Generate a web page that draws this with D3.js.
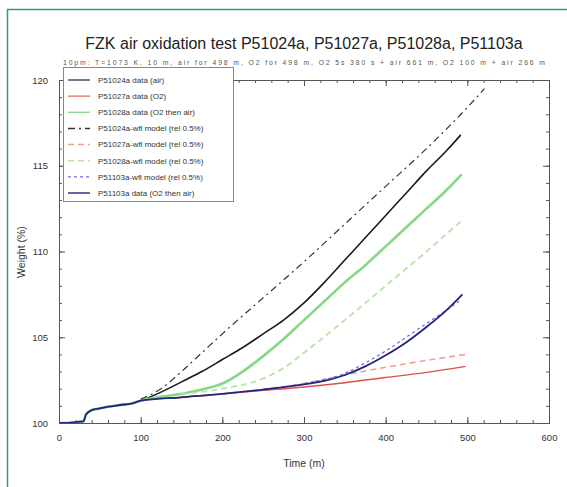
<!DOCTYPE html>
<html>
<head>
<meta charset="utf-8">
<script src="https://cdn.jsdelivr.net/npm/d3@7"></script>
<style>
  body { margin: 0; background: #fff; }
  svg { font-family: "Liberation Sans", Arial, sans-serif; }
</style>
</head>
<body>
<div></div>
<script>
const width = 567;
const height = 487;

const titleText = "FZK air oxidation test P51024a, P51027a, P51028a, P51103a";
const subtitleText = "10pm: T=1073 K, 10 m, air for 498 m, O2 for 498 m, O2 5s 380 s + air 661 m, O2 100 m + air 266 m";

const xTicks = [0, 100, 200, 300, 400, 500, 600];
const yTicks = [100, 105, 110, 115, 120];

// shared start of all runs (time in min, weight in %)
const startT = [0, 10, 20, 30, 33, 40, 50, 60, 75, 90, 100];
const startW = [100.0, 100.0, 100.05, 100.1, 100.5, 100.75, 100.85, 100.95, 101.05, 101.15, 101.3];

const t24 = [125, 150, 175, 200, 225, 250, 275, 300, 325, 350, 375, 400, 425, 450, 475, 492];
const w24 = [101.8, 102.4, 103.0, 103.7, 104.4, 105.2, 106.0, 107.0, 108.2, 109.5, 110.8, 112.1, 113.4, 114.7, 115.9, 116.8];

const t27 = [150, 200, 250, 300, 350, 400, 450, 498];
const w27 = [101.5, 101.7, 101.9, 102.1, 102.35, 102.65, 102.95, 103.3];

const t28 = [150, 175, 200, 225, 250, 275, 300, 325, 350, 375, 400, 425, 450, 475, 493];
const w28 = [101.7, 101.95, 102.3, 103.0, 103.9, 104.9, 106.0, 107.1, 108.2, 109.2, 110.3, 111.4, 112.5, 113.6, 114.5];

const t103 = [150, 200, 250, 300, 325, 350, 375, 400, 425, 450, 475, 494];
const w103 = [101.5, 101.7, 101.95, 102.25, 102.45, 102.8, 103.3, 103.95, 104.7, 105.6, 106.6, 107.5];

const tM24 = [100, 125, 150, 175, 200, 250, 300, 350, 400, 450, 500, 521];
const wM24 = [101.4, 102.0, 103.0, 104.1, 105.2, 107.3, 109.4, 111.6, 113.8, 116.0, 118.4, 119.5];

const tM27 = [200, 250, 300, 350, 400, 450, 498];
const wM27 = [101.7, 101.95, 102.3, 102.8, 103.25, 103.65, 104.0];

const tM28 = [150, 200, 250, 275, 300, 350, 400, 450, 493];
const wM28 = [101.7, 102.0, 102.6, 103.2, 104.1, 106.0, 108.0, 110.0, 111.8];

const tM103 = [250, 300, 350, 375, 400, 425, 450, 475, 490];
const wM103 = [101.95, 102.3, 102.9, 103.5, 104.2, 105.0, 105.8, 106.6, 107.1];

const seriesNames = [
  "P51024a data (air)",
  "P51027a data (O2)",
  "P51028a data (O2 then air)",
  "P51024a-wfl model (rel 0.5%)",
  "P51027a-wfl model (rel 0.5%)",
  "P51028a-wfl model (rel 0.5%)",
  "P51103a-wfl model (rel 0.5%)",
  "P51103a data (O2 then air)"
];

function pts(ts, ws) {
  return ts.map((t, i) => ({ t: t, w: ws[i] }));
}
const withStart = (ts, ws) => pts(startT.concat(ts), startW.concat(ws));

const series = [
  { name: seriesNames[0], data: withStart(t24, w24), color: "#1a1a1a", width: 1.6, dash: null, key: "#3a4560" },
  { name: seriesNames[1], data: withStart(t27, w27), color: "#e0504a", width: 1.4, dash: null, key: "#e07a6a" },
  { name: seriesNames[2], data: withStart(t28, w28), color: "#85d885", width: 2.6, dash: null, key: "#8fd68f" },
  { name: seriesNames[3], data: pts(tM24, wM24), color: "#333", width: 1.2, dash: "7,4,2,4", key: "#333" },
  { name: seriesNames[4], data: pts(tM27, wM27), color: "#f0a090", width: 1.6, dash: "6,4", key: "#f0a090" },
  { name: seriesNames[5], data: pts(tM28, wM28), color: "#b5e3a8", width: 1.8, dash: "6,4", key: "#b5e3a8" },
  { name: seriesNames[6], data: pts(tM103, wM103), color: "#6a6ae0", width: 1.2, dash: "3,3", key: "#6a6ae0" },
  { name: seriesNames[7], data: withStart(t103, w103), color: "#24247e", width: 1.8, dash: null, key: "#24247e" }
];

const svg = d3.select("div").append("svg").attr("width", width).attr("height", height);

// outer frame (only left and top edges fall inside the picture)
svg.append("path")
  .attr("d", "M7.5," + height + " L7.5,9.5 L" + width + ",9.5")
  .attr("fill", "none")
  .attr("stroke", "#2a9a8c")
  .attr("stroke-width", 1.5);

const plotLeft = 59, plotRight = 549, plotTop = 80, plotBottom = 423;

const x = d3.scaleLinear().domain([0, 600]).range([plotLeft, plotRight]);
const y = d3.scaleLinear().domain([100, 120]).range([plotBottom, plotTop]);

svg.append("text")
  .attr("x", 304).attr("y", 49)
  .attr("text-anchor", "middle")
  .attr("font-size", 16)
  .attr("fill", "#222")
  .text(titleText);

svg.append("text")
  .attr("x", 304).attr("y", 65)
  .attr("text-anchor", "middle")
  .attr("font-size", 6.8)
  .attr("textLength", 482)
  .attr("lengthAdjust", "spacing")
  .attr("fill", "#555")
  .text(subtitleText);

// clip region for lines
svg.append("clipPath").attr("id", "clip")
  .append("rect").attr("x", plotLeft).attr("y", plotTop)
  .attr("width", plotRight - plotLeft).attr("height", plotBottom - plotTop);

const line = d3.line().x((d) => x(d.t)).y((d) => y(d.w)).curve(d3.curveMonotoneX);

svg.append("g").attr("clip-path", "url(#clip)")
  .selectAll("path")
  .data(series)
  .enter()
  .append("path")
  .attr("d", (d) => line(d.data))
  .attr("fill", "none")
  .attr("stroke", (d) => d.color)
  .attr("stroke-width", (d) => d.width)
  .attr("stroke-dasharray", (d) => d.dash);

// axes: ticks inside on all four sides
const xMinor = d3.range(0, 601, 20);
const yMinor = d3.range(100, 120.01, 1);

function styleAxis(g) {
  g.select(".domain").attr("stroke", "#555");
  g.selectAll(".tick line").attr("stroke", "#555");
  g.selectAll("text").attr("fill", "#333").attr("font-size", 9.5);
}

svg.append("g").attr("transform", "translate(0," + plotBottom + ")")
  .call(d3.axisBottom(x).tickValues(xMinor).tickSize(-3).tickFormat(""))
  .call(styleAxis);
svg.append("g").attr("transform", "translate(0," + plotBottom + ")")
  .call(d3.axisBottom(x).tickValues(xTicks).tickSize(-6).tickPadding(11).tickFormat(d3.format("d")))
  .call(styleAxis);
svg.append("g").attr("transform", "translate(0," + plotTop + ")")
  .call(d3.axisTop(x).tickValues(xMinor).tickSize(-3).tickFormat(""))
  .call(styleAxis);
svg.append("g").attr("transform", "translate(0," + plotTop + ")")
  .call(d3.axisTop(x).tickValues(xTicks).tickSize(-6).tickFormat(""))
  .call(styleAxis);

svg.append("g").attr("transform", "translate(" + plotLeft + ",0)")
  .call(d3.axisLeft(y).tickValues(yMinor).tickSize(-3).tickFormat(""))
  .call(styleAxis);
svg.append("g").attr("transform", "translate(" + plotLeft + ",0)")
  .call(d3.axisLeft(y).tickValues(yTicks).tickSize(-6).tickPadding(11).tickFormat(d3.format("d")))
  .call(styleAxis);
svg.append("g").attr("transform", "translate(" + plotRight + ",0)")
  .call(d3.axisRight(y).tickValues(yMinor).tickSize(-3).tickFormat(""))
  .call(styleAxis);
svg.append("g").attr("transform", "translate(" + plotRight + ",0)")
  .call(d3.axisRight(y).tickValues(yTicks).tickSize(-6).tickFormat(""))
  .call(styleAxis);

svg.append("text")
  .attr("x", 304).attr("y", 467)
  .attr("text-anchor", "middle")
  .attr("font-size", 10.5)
  .attr("fill", "#333")
  .text("Time (m)");

svg.append("text")
  .attr("transform", "translate(25,252) rotate(-90)")
  .attr("text-anchor", "middle")
  .attr("font-size", 10.5)
  .attr("fill", "#333")
  .text("Weight (%)");

// legend
const legend = svg.append("g").attr("id", "legend");
legend.append("rect")
  .attr("x", 63.5).attr("y", 67.5)
  .attr("width", 170).attr("height", 134)
  .attr("fill", "#fff")
  .attr("stroke", "#888");

const ly = d3.scaleLinear().domain([0, 7]).range([80, 193]);

const items = legend.selectAll("g.item")
  .data(series)
  .enter()
  .append("g")
  .attr("class", "item")
  .attr("transform", (d, i) => "translate(0," + ly(i) + ")");

items.append("line")
  .attr("x1", 68).attr("x2", 90)
  .attr("y1", 0).attr("y2", 0)
  .attr("stroke", (d) => d.key)
  .attr("stroke-width", 1.4)
  .attr("stroke-dasharray", (d) => d.dash);

items.append("text")
  .attr("x", 98).attr("y", 2.8)
  .attr("font-size", 8)
  .attr("fill", "#333")
  .text((d) => d.name);
</script>
</body>
</html>
